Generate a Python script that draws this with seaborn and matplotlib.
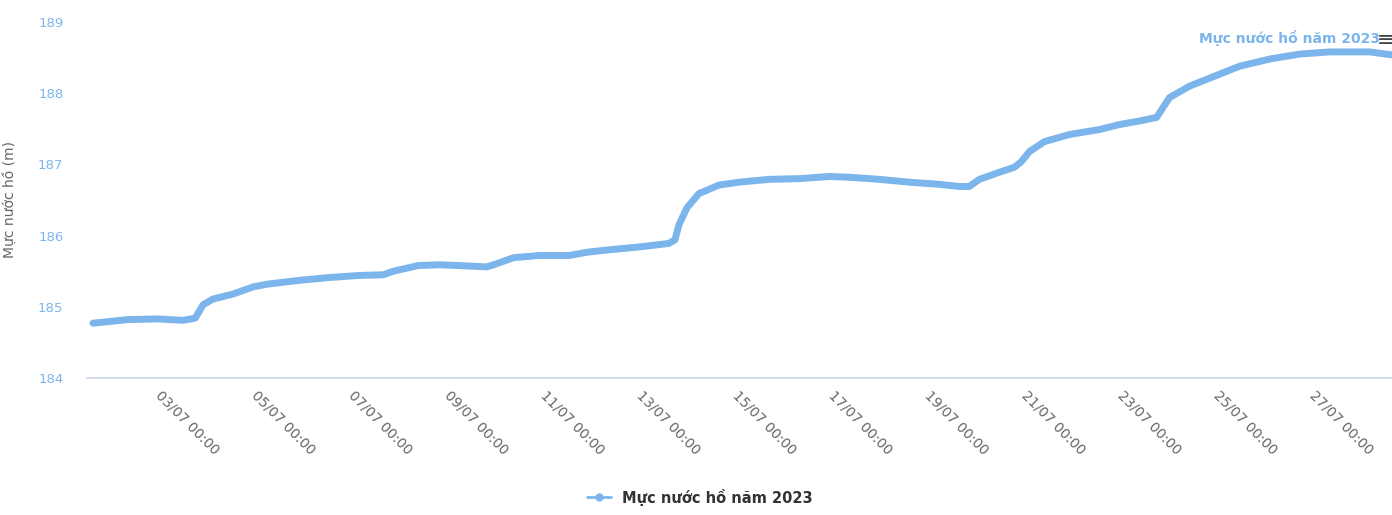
import matplotlib
matplotlib.use("Agg")
import matplotlib.pyplot as plt
import matplotlib.dates as mdates
from matplotlib.lines import Line2D
import seaborn as sns
import pandas as pd

times = [
    "2023-07-01 15:30", "2023-07-02 09:00", "2023-07-03 00:00", "2023-07-03 12:30",
    "2023-07-03 18:30", "2023-07-03 22:30", "2023-07-04 03:30", "2023-07-04 13:30",
    "2023-07-04 23:30", "2023-07-05 07:00", "2023-07-05 22:00", "2023-07-06 13:00",
    "2023-07-07 04:00", "2023-07-07 16:30", "2023-07-07 21:30", "2023-07-08 10:00",
    "2023-07-08 20:00", "2023-07-09 06:00", "2023-07-09 20:00", "2023-07-09 23:30",
    "2023-07-10 09:30", "2023-07-10 22:00", "2023-07-11 13:00", "2023-07-11 23:00",
    "2023-07-12 09:00", "2023-07-13 00:00", "2023-07-13 15:00", "2023-07-13 18:00",
    "2023-07-13 20:00", "2023-07-14 00:00", "2023-07-14 06:00", "2023-07-14 16:00",
    "2023-07-15 02:00", "2023-07-15 17:00", "2023-07-16 08:00", "2023-07-16 23:00",
    "2023-07-17 09:00", "2023-07-18 00:00", "2023-07-18 15:00", "2023-07-19 06:00",
    "2023-07-19 16:00", "2023-07-19 21:00", "2023-07-20 02:00", "2023-07-20 12:00",
    "2023-07-20 19:30", "2023-07-20 23:00", "2023-07-21 03:00", "2023-07-21 10:30",
    "2023-07-21 23:00", "2023-07-22 14:00", "2023-07-23 00:00", "2023-07-23 10:00",
    "2023-07-23 18:30", "2023-07-23 21:00", "2023-07-24 01:00", "2023-07-24 11:00",
    "2023-07-24 23:30", "2023-07-25 12:00", "2023-07-26 03:00", "2023-07-26 18:00",
    "2023-07-27 09:00", "2023-07-28 05:00", "2023-07-28 18:00",
]
levels = [
    184.77, 184.82, 184.83, 184.81,
    184.84, 185.03, 185.11, 185.18,
    185.28, 185.32, 185.37, 185.41,
    185.44, 185.45, 185.50, 185.58,
    185.59, 185.58, 185.56, 185.59,
    185.69, 185.72, 185.72, 185.77,
    185.80, 185.84, 185.89, 185.94,
    186.15, 186.39, 186.59, 186.71,
    186.75, 186.79, 186.80, 186.83,
    186.82, 186.79, 186.75, 186.72,
    186.69, 186.69, 186.79, 186.89,
    186.96, 187.04, 187.18, 187.32,
    187.42, 187.49, 187.56, 187.61,
    187.66, 187.77, 187.94, 188.10,
    188.24, 188.38, 188.48, 188.55,
    188.58, 188.58, 188.53,
]
series_name = "Mực nước hồ năm 2023"
y_title = "Mực nước hồ (m)"
y_ticks = [184, 185, 186, 187, 188, 189]

df = pd.DataFrame({"time": pd.to_datetime(times), "level": levels, "series": series_name})

sns.set_style("white")
plt.rcParams["font.family"] = ["DejaVu Sans"]

W, H = 1392, 515
fig = plt.figure(figsize=(W / 100, H / 100), dpi=100)
ax = fig.add_axes([87 / W, (H - 378) / H, (W - 87) / W, (378 - 22) / H])

line_color = "#7cb5ec"
sns.lineplot(data=df, x="time", y="level", ax=ax, color=line_color, linewidth=5,
             legend=False, solid_capstyle="round", solid_joinstyle="round")

ax.set_ylim(184, 189)
ax.set_yticks(y_ticks)
ax.set_xlim(pd.Timestamp("2023-07-01 12:30"), pd.Timestamp("2023-07-28 16:00"))
ax.xaxis.set_major_locator(mdates.DayLocator(bymonthday=[3, 5, 7, 9, 11, 13, 15, 17, 19, 21, 23, 25, 27]))
ax.xaxis.set_major_formatter(mdates.DateFormatter("%d/%m %H:%M"))

for s in ["top", "right", "left"]:
    ax.spines[s].set_visible(False)
ax.spines["bottom"].set_color("#ccd6eb")
ax.spines["bottom"].set_linewidth(1.2)

ax.tick_params(axis="x", colors="#ccd6eb", length=7, width=1.0, direction="out", pad=4,
               labelcolor="#666666", labelsize=10)
ax.tick_params(axis="y", length=0, pad=17, labelcolor="#7cb5ec", labelsize=9.5)
for lab in ax.get_xticklabels():
    lab.set_rotation(-45)
    lab.set_ha("left")
    lab.set_va("center")
    lab.set_rotation_mode("anchor")

ax.set_xlabel("")
ax.set_ylabel(y_title, color="#666666", fontsize=10)
ax.yaxis.set_label_coords((17 - 87) / (W - 87), 0.5)

# data label at end of series
fig.text(1380 / W, 1 - 38 / H, series_name, ha="right", va="center",
         color="#7cb5ec", fontsize=10, fontweight="bold")
fig.text(1386 / W, 1 - 40 / H, "≡", ha="center", va="center", fontsize=15, color="#444444")

# legend
handle = Line2D([0], [0], color=line_color, linewidth=2, marker="o", markersize=5)
fig.legend([handle], [series_name], loc="center", bbox_to_anchor=(700 / W, 1 - 497 / H),
           frameon=False, fontsize=10.5, handlelength=1.6, labelcolor="#333333",
           prop={"weight": "bold", "size": 10.5})

fig.savefig("out.png", dpi=100)
